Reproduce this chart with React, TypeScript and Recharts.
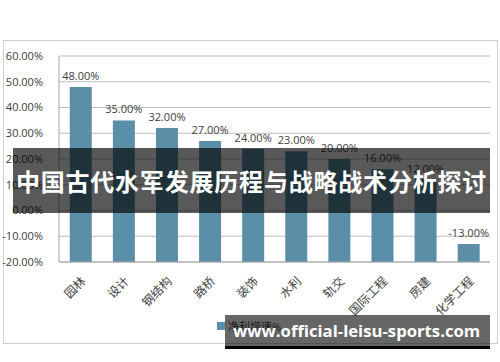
import { Bar, BarChart, CartesianGrid, LabelList, XAxis, YAxis } from "recharts";

const categories = ["园林", "设计", "钢结构", "路桥", "装饰", "水利", "轨交", "国际工程", "房建", "化学工程"];
const growth = [48, 35, 32, 27, 24, 23, 20, 16, 12, -13];
const yTicks = [-20, -10, 0, 10, 20, 30, 40, 50, 60];

const AXIS_MIN = -20;
const BAR_COLOR = "#5a8fa7";
const FONT = "'Open Sans', 'Noto Sans CJK SC', sans-serif";

const data = categories.map((name, i) => ({ name, value: growth[i] }));

export default function App() {
  return (
    <div style={{ position: "fixed", left: 0, top: 0, width: 500, height: 362, background: "#fff", fontFamily: FONT }}>
      {/* chart frame */}
      <div
        style={{
          position: "absolute",
          left: 3,
          top: 40,
          width: 493,
          height: 302,
          border: "1px solid #d0d0d0",
        }}
      />
      <div style={{ position: "absolute", left: 0, top: 0 }}>
        <BarChart
          width={500}
          height={362}
          data={data}
          margin={{ top: 56, right: 10, left: 0, bottom: 40 }}
          barCategoryGap="25%"
        >
          <CartesianGrid vertical={false} stroke="#bdbdbd" />
          <XAxis
            dataKey="name"
            interval={0}
            height={60}
            axisLine={{ stroke: "#a6a6a6" }}
            tickLine={false}
            tick={{ fontSize: 12, fill: "#404040", fontFamily: FONT }}
            angle={-45}
            textAnchor="end"
            tickMargin={8}
          />
          <YAxis
            width={59}
            domain={[-20, 60]}
            ticks={yTicks}
            interval={0}
            axisLine={{ stroke: "#a6a6a6" }}
            tickLine={false}
            tickMargin={10}
            tick={{ fontSize: 11, fill: "#404040", fontFamily: FONT }}
            tickFormatter={(v) => `${Number(v).toFixed(2)}%`}
          />
          <Bar
            dataKey={(d: { value: number }) => [AXIS_MIN, d.value]}
            fill={BAR_COLOR}
            isAnimationActive={false}
          >
            <LabelList
              dataKey="value"
              position="top"
              offset={7}
              formatter={(v: number) => `${v.toFixed(2)}%`}
              style={{ fontSize: 11, fill: "#404040", fontFamily: FONT }}
            />
          </Bar>
        </BarChart>
      </div>

      {/* legend */}
      <div
        style={{
          position: "absolute",
          left: 217,
          top: 318,
          display: "flex",
          alignItems: "center",
          fontSize: 11,
          color: "#404040",
        }}
      >
        <span style={{ width: 8, height: 8, background: BAR_COLOR, display: "inline-block", marginRight: 3 }} />
        <span>净利增速%</span>
      </div>

      {/* title banner */}
      <div
        style={{
          position: "absolute",
          left: 13,
          top: 148,
          width: 477,
          height: 65,
          background: "rgba(0,0,0,0.65)",
          color: "#fff",
          display: "flex",
          alignItems: "center",
          justifyContent: "center",
          fontFamily: "'Noto Sans CJK SC', sans-serif",
          fontWeight: 700,
          fontSize: 24,
          letterSpacing: 0.8,
          whiteSpace: "nowrap",
        }}
      >
        中国古代水军发展历程与战略战术分析探讨
      </div>

      {/* watermark banner */}
      <div
        style={{
          position: "absolute",
          left: 225,
          top: 315,
          width: 265,
          height: 34,
          background: "rgba(0,0,0,0.6)",
          borderBottom: "3px solid #000",
          color: "#fff",
          display: "flex",
          alignItems: "center",
          paddingLeft: 8,
          boxSizing: "border-box",
          fontFamily: "'Open Sans', sans-serif",
          fontWeight: 700,
          fontSize: 16.7,
          whiteSpace: "nowrap",
        }}
      >
        www.official-leisu-sports.com
      </div>
    </div>
  );
}
